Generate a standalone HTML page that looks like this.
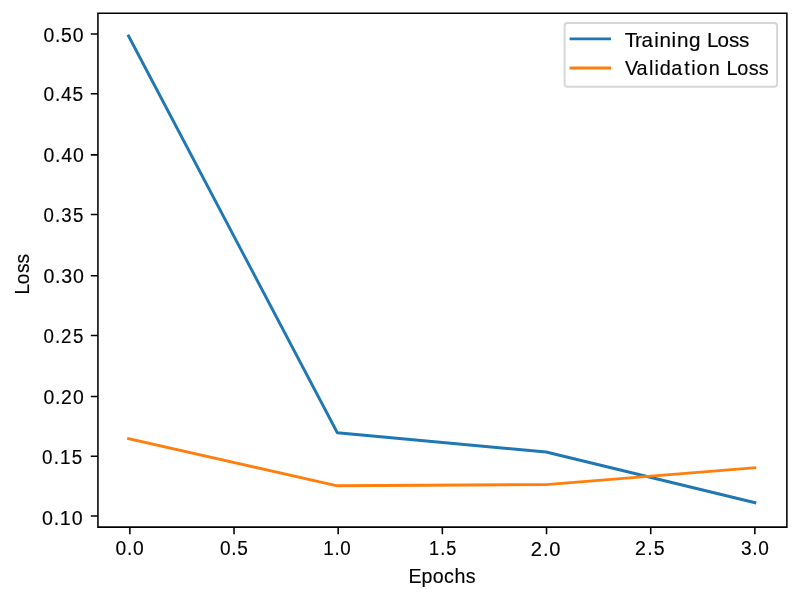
<!DOCTYPE html>
<html><head><meta charset="utf-8"><title>Loss chart</title>
<style>
html,body{margin:0;padding:0;background:#fff;width:800px;height:600px;overflow:hidden}
#wrap{width:800px;height:600px;will-change:transform}
svg{display:block}
text{font-family:"Liberation Sans",sans-serif;font-size:19.29px;fill:#000;stroke:#000;stroke-width:0.15px}
</style></head><body>
<div id="wrap"><svg width="800" height="600" viewBox="0 0 800 600">
<rect x="0" y="0" width="800" height="600" fill="#fff"/>
<polyline points="128.57,36.00 337.33,432.73 546.08,452.02 754.84,502.67" fill="none" stroke="#1f77b4" stroke-width="2.894" stroke-linecap="square" stroke-linejoin="round"/>
<polyline points="128.57,438.76 337.33,485.79 546.08,484.58 754.84,467.70" fill="none" stroke="#ff7f0e" stroke-width="2.894" stroke-linecap="square" stroke-linejoin="round"/>
<path d="M97.93,527.13 V13.15 M786.87,527.13 V13.15 M97.93,527.13 H786.87 M97.93,13.15 H786.87" stroke="#000" stroke-width="1.543" stroke-linecap="square" fill="none"/>
<path d="M97.93,515.97 h-7.15 M97.93,456.24 h-7.15 M97.93,396.53 h-7.15 M97.93,335.41 h-7.15 M97.93,275.71 h-7.15 M97.93,214.59 h-7.15 M97.93,154.87 h-7.15 M97.93,93.74 h-7.15 M97.93,34.03 h-7.15 M129.87,527.13 v7.15 M234.03,527.13 v7.15 M338.18,527.13 v7.15 M442.35,527.13 v7.15 M546.53,527.13 v7.15 M650.71,527.13 v7.15 M754.87,527.13 v7.15 " stroke="#000" stroke-width="1.543" fill="none"/>
<text transform="scale(0.9891,1)" x="42.56 54.33 60.47 72.58" y="524.79" style="font-size:19.90px">0.10</text>
<text transform="scale(0.9492,1)" x="44.36 56.55 63.13 75.72" y="464.50" style="font-size:19.90px">0.15</text>
<text transform="scale(0.9751,1)" x="44.72 56.49 62.48 74.74" y="404.21" style="font-size:19.90px">0.20</text>
<text transform="scale(0.9440,1)" x="46.15 58.26 64.58 77.22" y="342.91" style="font-size:19.90px">0.25</text>
<text transform="scale(0.9837,1)" x="44.14 55.91 62.18 74.16" y="282.82" style="font-size:19.90px">0.30</text>
<text transform="scale(0.9400,1)" x="46.39 58.53 65.17 77.57" y="222.43" style="font-size:19.90px">0.35</text>
<text transform="scale(0.9782,1)" x="44.51 56.28 62.52 74.54" y="162.44" style="font-size:19.90px">0.40</text>
<text transform="scale(0.9640,1)" x="45.21 56.98 63.22 75.16" y="101.24" style="font-size:19.90px">0.45</text>
<text transform="scale(0.9764,1)" x="44.61 56.38 62.55 74.64" y="42.45" style="font-size:19.90px">0.50</text>
<text transform="scale(0.9644,1)" x="119.89 131.72 137.99" y="555.50" style="font-size:20.00px">0.0</text>
<text transform="scale(0.9545,1)" x="230.41 242.24 248.44" y="555.50" style="font-size:20.00px">0.5</text>
<text transform="scale(0.9378,1)" x="344.75 356.69 362.96" y="555.50" style="font-size:20.00px">1.0</text>
<text transform="scale(0.9050,1)" x="474.11 486.45 493.08" y="555.50" style="font-size:20.00px">1.5</text>
<text transform="scale(1.0073,1)" x="527.00 539.08 545.35" y="555.50" style="font-size:20.00px">2.0</text>
<text transform="scale(0.9792,1)" x="648.60 661.02 667.56" y="555.50" style="font-size:20.00px">2.5</text>
<text transform="scale(0.9529,1)" x="777.72 789.53 795.80" y="555.50" style="font-size:20.00px">3.0</text>
<text transform="scale(0.9822,1)" x="415.89 429.09 440.71 451.97 462.77 474.32" y="583.16" style="font-size:20.00px">Epochs</text>
<text transform="translate(29.17,0) rotate(-90) scale(0.9404,1)" x="-313.06 -302.29 -290.41 -280.13" y="0" style="font-size:20.30px">Loss</text>
<rect x="564.6" y="22.93" width="212.50" height="63.87" rx="2.80" ry="2.80" fill="#fff" fill-opacity="0.8" stroke="#cccccc" stroke-opacity="0.8" stroke-width="1.929"/>
<path d="M571.03,38.92 H609.61" stroke="#1f77b4" stroke-width="2.894" stroke-linecap="square"/>
<path d="M571.03,68.0 H609.61" stroke="#ff7f0e" stroke-width="2.894" stroke-linecap="square"/>
<text transform="scale(1.0073,1)" x="620.32 630.43 636.80 649.43 654.70 666.76 672.03 683.95 695.35 701.81 712.21 723.69 733.60" y="46.53" style="font-size:20.50px">Training Loss</text>
<text transform="scale(0.9670,1)" x="646.40 658.18 671.21 676.76 682.29 694.11 707.66 714.97 720.40 732.85 744.25 751.43 762.31 774.30 784.69" y="75.02" style="font-size:20.50px">Validation Loss</text>
</svg></div>
</body></html>
